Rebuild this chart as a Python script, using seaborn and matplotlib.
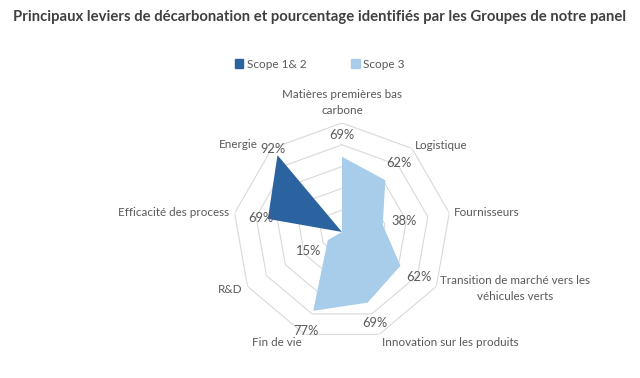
import numpy as np
import matplotlib.pyplot as plt
import seaborn as sns
from matplotlib.patches import Patch

categories = ['Matières premières bas\ncarbone', 'Logistique', 'Fournisseurs',
              'Transition de marché vers les\nvéhicules verts', 'Innovation sur les produits',
              'Fin de vie', 'R&D', 'Efficacité des process', 'Energie']
scope_12 = [0, 0, 0, 0, 0, 0, 0, 0.69, 0.92]
scope_3 = [0.69, 0.62, 0.38, 0.62, 0.69, 0.77, 0.15, 0, 0]
series_names = ['Scope 1& 2', 'Scope 3']
rings = [0.2, 0.4, 0.6, 0.8, 1.0]

sns.set_theme(style='white')
plt.rcParams['font.family'] = ['Lato', 'DejaVu Sans']

dark = '#2B63A0'
light = '#A8CDEB'
txt = '#595959'

fig = plt.figure(figsize=(6.4, 3.78), dpi=100)
ax = fig.add_axes([0.364, 0.098, 0.3406, 0.5767], projection='polar')
ax.set_theta_zero_location('N')
ax.set_theta_direction(-1)
ax.set_ylim(0, 1)
ax.grid(False)
ax.set_xticks([])
ax.set_yticks([])
ax.spines['polar'].set_visible(False)
ax.patch.set_alpha(0)

n = len(categories)
theta = np.deg2rad(np.arange(n) * 360 / n)
closed = np.append(theta, theta[0])

# nonagon grid
for r in rings:
    ax.plot(closed, [r] * (n + 1), color='#d9d9d9', lw=0.8, zorder=1)

# series
for vals, col, off in [(scope_12, dark, 0.07), (scope_3, light, 0.2)]:
    v = np.append(vals, vals[0])
    ax.fill(closed, v, color=col, lw=0, zorder=2)
    for t, val in zip(theta, vals):
        if val > 0:
            ax.text(t, val + off, f'{val:.0%}', ha='center', va='center',
                    fontsize=9.3, color=txt, zorder=3)

# category labels
for t, lab in zip(np.rad2deg(theta), categories):
    dx = 0
    if t == 0:
        ha, va, r = 'center', 'bottom', 1.06
    elif t < 180:
        ha, va, r = 'left', 'center', 1.04
    else:
        ha, va, r = 'right', 'center', 1.05
    if 150 < t < 210:
        r = 1.08
    if t > 300:
        dx = -8
    ax.annotate(lab, (np.deg2rad(t), r), xytext=(dx, 0), textcoords='offset points',
                ha=ha, va=va, fontsize=8.4, color=txt, annotation_clip=False,
                multialignment='center', linespacing=1.6)

fig.text(0.5, 0.955, 'Principaux leviers de décarbonation et pourcentage identifiés par les Groupes de notre panel',
         ha='center', va='center', fontsize=10.7, fontweight='bold', color='#404040')

handles = [Patch(color=dark, label=series_names[0]), Patch(color=light, label=series_names[1])]
fig.legend(handles=handles, loc='center', bbox_to_anchor=(0.5, 0.83), ncol=2, frameon=False,
           handlelength=0.7, handleheight=0.7, handletextpad=0.3, columnspacing=3.8,
           fontsize=8.5, labelcolor=txt)

fig.savefig('out.png', dpi=100)
